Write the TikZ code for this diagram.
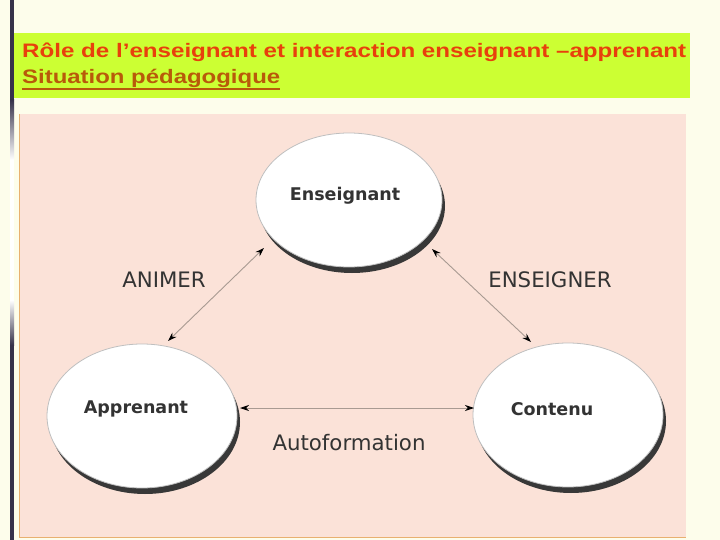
\documentclass[tikz,border=0pt]{standalone}
\usepackage{fontspec}
\usepackage{graphicx}
\setmainfont{Liberation Sans}
\newfontfamily\diagfont{DejaVu Sans}
\usetikzlibrary{arrows.meta}
\definecolor{cream}{HTML}{FDFDEB}
\definecolor{lime}{HTML}{CCFF33}
\definecolor{titlered}{HTML}{E8400C}
\definecolor{subbrown}{HTML}{B85A0A}
\definecolor{panelpink}{HTML}{FBE2D8}
\definecolor{panelline}{HTML}{E8B070}
\definecolor{bardark}{HTML}{36324A}
\definecolor{txtgray}{HTML}{333333}
\definecolor{arrowline}{HTML}{A89A92}
\tikzset{
  lbl/.style={text=txtgray, font=\diagfont\fontsize{21.3}{24}\selectfont},
  nlbl/.style={text=txtgray, font=\diagfont\bfseries\fontsize{17.5}{22}\selectfont},
  link/.style={draw=arrowline, line width=0.9pt, {Stealth[black,length=9pt,width=6pt]}-{Stealth[black,length=9pt,width=6pt]}},
  shadowfill/.style={fill=black!78},
  bubblefill/.style={fill=white, draw=black!25, line width=0.8pt},
}
\begin{document}
\begin{tikzpicture}[x=1pt,y=-1pt]
\useasboundingbox (0,0) rectangle (720,540);
\fill[cream] (0,0) rectangle (720,540);
% left bar
\fill[bardark] (10,0) rectangle (14,540);
\shade[top color=bardark, bottom color=white] (10,100) rectangle (14,160);
\fill[white] (10,160) rectangle (14,300);
\shade[top color=white, bottom color=bardark] (10,300) rectangle (14,345);
% title box
\fill[lime] (14,33) rectangle (690,98);
\node[anchor=base west, text=titlered, font=\bfseries\fontsize{19.5}{24}\selectfont, inner sep=0] (title) at (22,58) {\resizebox{664pt}{\height}{Rôle de l’enseignant et interaction enseignant –apprenant}};
\node[anchor=base west, text=subbrown, font=\bfseries\fontsize{19.5}{24}\selectfont, inner sep=0] (sub) at (22,84) {\resizebox{258pt}{\height}{Situation pédagogique}};
\draw[subbrown, line width=1.5pt] (22,89) -- (280,89);
% panel
\fill[panelpink] (19,114) rectangle (686,537);
\draw[panelline, line width=0.8pt] (19.5,114) -- (19.5,537) -- (686,537);
% ellipses
\fill[shadowfill] (352,206) ellipse [x radius=93, y radius=67];
\path[bubblefill] (349,200) ellipse [x radius=93, y radius=67];
\node[nlbl] (ens) at (345,196) {Enseignant};
\fill[shadowfill] (145,422) ellipse [x radius=95, y radius=72];
\path[bubblefill] (142,416) ellipse [x radius=95, y radius=72];
\node[nlbl] (app) at (136,409) {Apprenant};
\fill[shadowfill] (571,421) ellipse [x radius=95, y radius=72];
\path[bubblefill] (568,415) ellipse [x radius=95, y radius=72];
\node[nlbl] (con) at (552,409) {Contenu};
% connector endpoints
\coordinate (a1) at (264,248);
\coordinate (a2) at (168,341);
\coordinate (e1) at (432,249);
\coordinate (e2) at (531,342);
\coordinate (h1) at (240,408);
\coordinate (h2) at (474,408);
\draw[link] (a1) -- (a2);
\draw[link] (e1) -- (e2);
\draw[link] (h1) -- (h2);
\node[lbl] (animer) at (164,280) {ANIMER};
\node[lbl] (enseigner) at (550,280) {ENSEIGNER};
\node[lbl] (auto) at (349,443) {Autoformation};
\end{tikzpicture}
\end{document}
